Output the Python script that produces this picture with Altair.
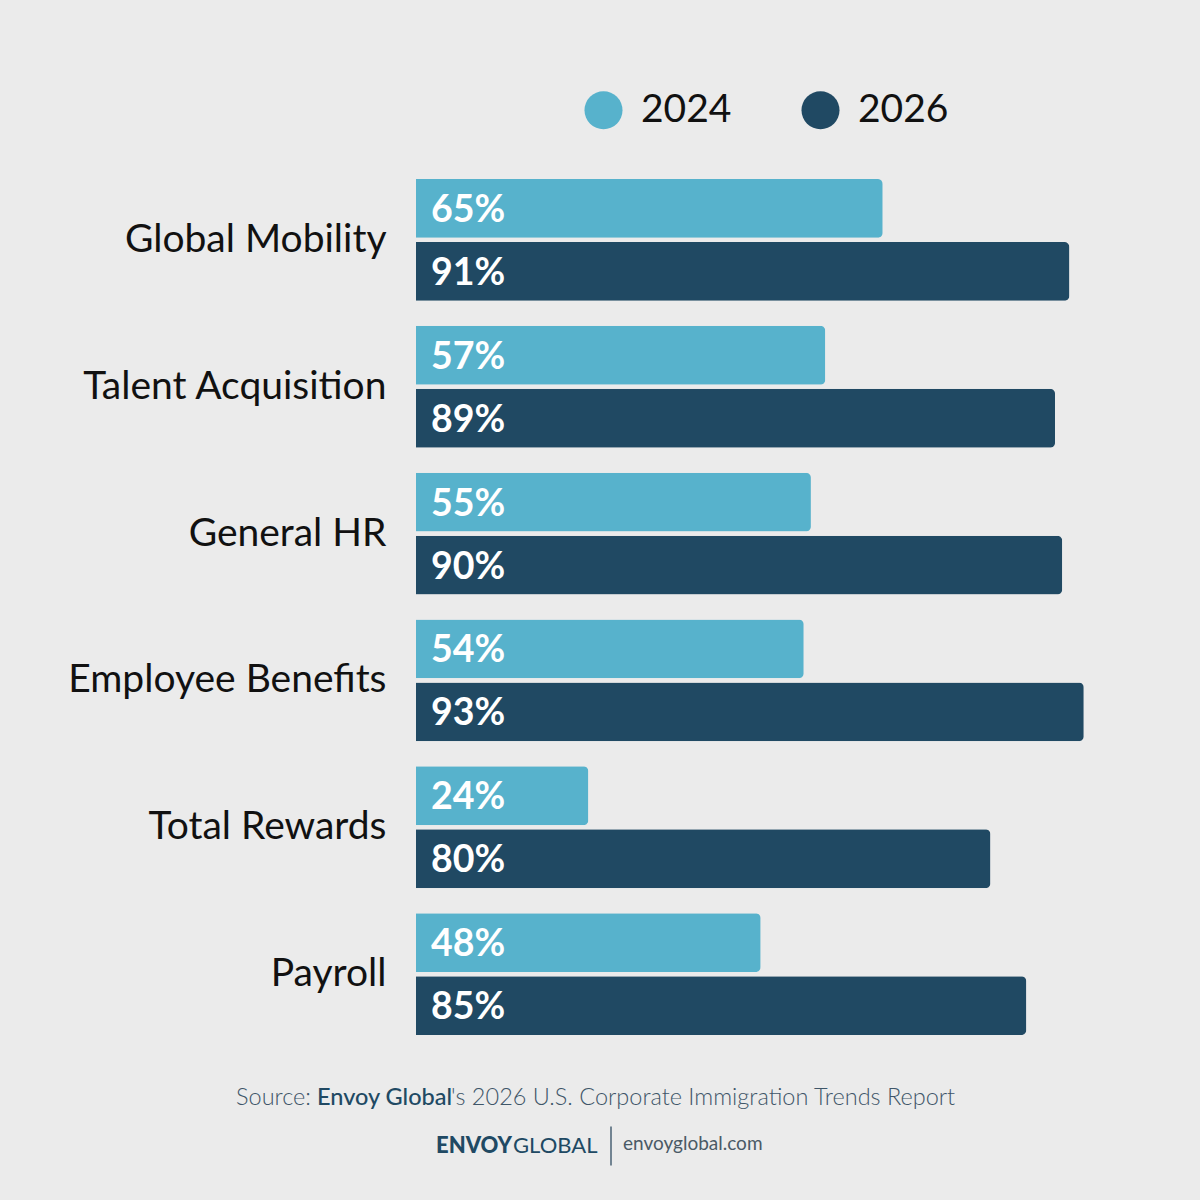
import altair as alt
import pandas as pd

categories = ["Global Mobility", "Talent Acquisition", "General HR",
              "Employee Benefits", "Total Rewards", "Payroll"]
years = ["2024", "2026"]
values_2024 = [65, 57, 55, 54, 24, 48]
values_2026 = [91, 89, 90, 93, 80, 85]
colors = ["#57b2cc", "#204963"]

rows = []
for c, a, b in zip(categories, values_2024, values_2026):
    rows.append({"category": c, "year": "2024", "value": a, "label": f"{a}%"})
    rows.append({"category": c, "year": "2026", "value": b, "label": f"{b}%"})
df = pd.DataFrame(rows)

FONT = "Lato"

base = alt.Chart(df).encode(
    y=alt.Y("category:N", sort=categories, title=None,
            scale=alt.Scale(paddingInner=0.17, paddingOuter=0.085),
            axis=alt.Axis(domain=False, ticks=False, labelFontSize=39,
                          labelFont=FONT, labelColor="#111111",
                          labelPadding=30, labelLimit=400)),
    yOffset=alt.YOffset("year:N", sort=years,
                        scale=alt.Scale(paddingInner=0.065, paddingOuter=0)),
)

bars = base.mark_bar(cornerRadiusEnd=5).encode(
    x=alt.X("value:Q", scale=alt.Scale(domain=[0, 100]), axis=None),
    color=alt.Color("year:N", sort=years,
                    scale=alt.Scale(domain=years, range=colors),
                    legend=alt.Legend(title=None, orient="none", legendX=168,
                                      legendY=-76, direction="horizontal",
                                      symbolType="circle", symbolSize=1444,
                                      symbolStrokeWidth=0, labelFontSize=39,
                                      labelFont=FONT, labelColor="#111111",
                                      labelOffset=18, columnPadding=69,
                                      padding=0)),
)

labels = base.mark_text(align="left", baseline="middle", dx=15, dy=2.5,
                        color="white", font=FONT, fontWeight="bold",
                        fontSize=37.5).encode(
    x=alt.datum(0),
    text="label:N",
)

src_color = "#3f5669"
footer_y = 931
FS = 23.5
src1 = alt.Chart(pd.DataFrame({"t": ["Source:"]})).mark_text(
    align="right", baseline="middle", font=FONT, fontSize=FS,
    fontWeight=300, color=src_color).encode(
    x=alt.value(-105), y=alt.value(footer_y), text="t:N")
src2 = alt.Chart(pd.DataFrame({"t": ["Envoy Global"]})).mark_text(
    align="left", baseline="middle", font=FONT, fontSize=FS,
    fontWeight=500, color="#204963").encode(
    x=alt.value(-99), y=alt.value(footer_y), text="t:N")
src3 = alt.Chart(pd.DataFrame({"t": ["'s 2026 U.S. Corporate Immigration Trends Report"]})).mark_text(
    align="left", baseline="middle", font=FONT, fontSize=FS,
    fontWeight=300, color=src_color).encode(
    x=alt.value(35), y=alt.value(footer_y), text="t:N")

logo_y = 979
logo1 = alt.Chart(pd.DataFrame({"t": ["ENVOY"]})).mark_text(
    align="left", baseline="middle", font=FONT, fontSize=22,
    fontWeight=900, color="#204963").encode(
    x=alt.value(20), y=alt.value(logo_y), text="t:N")
logo2 = alt.Chart(pd.DataFrame({"t": ["GLOBAL"]})).mark_text(
    align="left", baseline="middle", font=FONT, fontSize=22,
    fontWeight=400, color="#204963").encode(
    x=alt.value(97), y=alt.value(logo_y), text="t:N")
sep = alt.Chart(pd.DataFrame({"t": [1]})).mark_rule(
    color="#4a6275", strokeWidth=1.5).encode(
    x=alt.value(195), y=alt.value(960), y2=alt.value(999))
site = alt.Chart(pd.DataFrame({"t": ["envoyglobal.com"]})).mark_text(
    align="left", baseline="middle", font=FONT, fontSize=19,
    fontWeight=400, color="#4a5a66").encode(
    x=alt.value(207), y=alt.value(977), text="t:N")

chart = alt.layer(bars, labels, src1, src2, src3, logo1, logo2, sep, site).properties(
    width=718, height=881,
    autosize=alt.AutoSizeParams(type="none"),
    padding={"left": 416, "top": 166.5, "right": 66, "bottom": 152.5},
    background="#ebebeb",
).configure_view(stroke=None)

chart.save("out.html", embed_options={"renderer": "svg", "actions": False})
